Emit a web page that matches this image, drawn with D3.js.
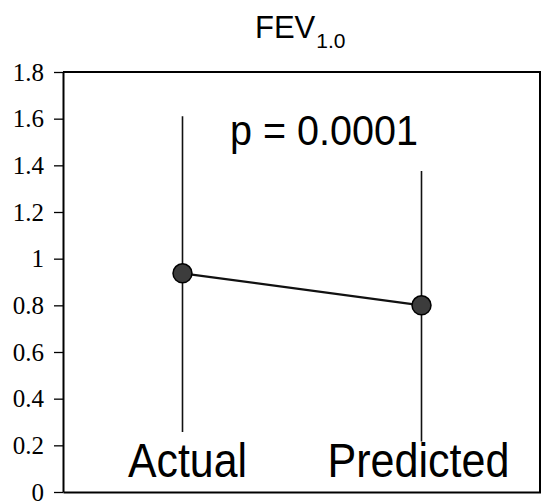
<!DOCTYPE html>
<html>
<head>
<meta charset="utf-8">
<script src="https://cdn.jsdelivr.net/npm/d3@7"></script>
<style>
  html, body { margin: 0; padding: 0; background: #fff; }
  svg { display: block; }
</style>
</head>
<body>
<svg id="chart" width="541" height="501"></svg>
<script>
// ---- data ----
const categories = ["Actual", "Predicted"];
const means = [0.937, 0.80];
const upper = [1.61, 1.376];
const lower = [0.257, 0.216];
const yTicks = [0, 0.2, 0.4, 0.6, 0.8, 1, 1.2, 1.4, 1.6, 1.8];
const yTickLabels = ["0", "0.2", "0.4", "0.6", "0.8", "1", "1.2", "1.4", "1.6", "1.8"];
const titleMain = "FEV";
const titleSub = "1.0";
const pText = "p = 0.0001";

(function () {
// ---- layout ----
const svg = d3.select("#chart");
const mLeft = 63, mRight = 541, mTop = 72, mBottom = 492;

const y = d3.scaleLinear().domain([0, 1.8]).range([mBottom, mTop]);
const x = d3.scalePoint().domain(categories).range([mLeft, mRight]).padding(0.5);

// frame (top and right border)
svg.append("path")
  .attr("d", `M${mLeft},${mTop}H${mRight - 1}V${mBottom}`)
  .attr("fill", "none").attr("stroke", "#000").attr("stroke-width", 2);

// y axis
const yAxis = d3.axisLeft(y)
  .tickValues(yTicks)
  .tickFormat((d, i) => yTickLabels[i])
  .tickSizeInner(9).tickSizeOuter(0).tickPadding(10);
const gy = svg.append("g").attr("transform", `translate(${mLeft},0)`).call(yAxis);
gy.select(".domain").attr("stroke", "#000").attr("stroke-width", 2);
gy.selectAll(".tick line").attr("stroke", "#000").attr("stroke-width", 1.3);
gy.selectAll(".tick text")
  .attr("font-family", "'Liberation Serif', 'Times New Roman', serif")
  .attr("font-size", 25).attr("fill", "#000");

// x axis baseline
const xAxis = d3.axisBottom(x).tickSize(0).tickFormat("");
const gx = svg.append("g").attr("transform", `translate(0,${mBottom})`).call(xAxis);
gx.select(".domain").attr("stroke", "#000").attr("stroke-width", 2);

// range lines
svg.selectAll("line.range")
  .data(categories)
  .enter().append("line")
  .attr("class", "range")
  .attr("x1", d => x(d)).attr("x2", d => x(d))
  .attr("y1", (d, i) => y(upper[i])).attr("y2", (d, i) => y(lower[i]))
  .attr("stroke", "#111").attr("stroke-width", 1.6);

// connecting line
const line = d3.line().x((d, i) => x(categories[i])).y(d => y(d));
svg.append("path")
  .datum(means)
  .attr("d", line)
  .attr("fill", "none").attr("stroke", "#111").attr("stroke-width", 2.2);

// points
svg.selectAll("circle.pt")
  .data(means)
  .enter().append("circle")
  .attr("class", "pt")
  .attr("cx", (d, i) => x(categories[i]))
  .attr("cy", d => y(d))
  .attr("r", 9.5)
  .attr("fill", "#3c3c3c").attr("stroke", "#000").attr("stroke-width", 1.5);

// category labels inside the plot
const labelWidths = [119, 182];
svg.selectAll("text.cat")
  .data(categories)
  .enter().append("text")
  .attr("class", "cat")
  .attr("x", (d, i) => x(d) + (i === 0 ? 5 : -3))
  .attr("y", 477)
  .attr("text-anchor", "middle")
  .attr("font-family", "'Liberation Sans', Arial, sans-serif")
  .attr("font-size", 48)
  .attr("textLength", (d, i) => labelWidths[i])
  .attr("lengthAdjust", "spacingAndGlyphs")
  .attr("fill", "#000")
  .text(d => d);

// p-value
svg.append("text")
  .attr("x", 324).attr("y", 145)
  .attr("text-anchor", "middle")
  .attr("font-family", "'Liberation Sans', Arial, sans-serif")
  .attr("font-size", 42)
  .attr("textLength", 188)
  .attr("lengthAdjust", "spacingAndGlyphs")
  .attr("fill", "#000")
  .text(pText);

// title
const title = svg.append("text")
  .attr("x", 255).attr("y", 38)
  .attr("font-family", "'Liberation Sans', Arial, sans-serif")
  .attr("fill", "#000");
title.append("tspan").attr("font-size", 31).text(titleMain);
title.append("tspan").attr("font-size", 21).attr("dy", 10).attr("dx", 1).text(titleSub);
})();
</script>
</body>
</html>
